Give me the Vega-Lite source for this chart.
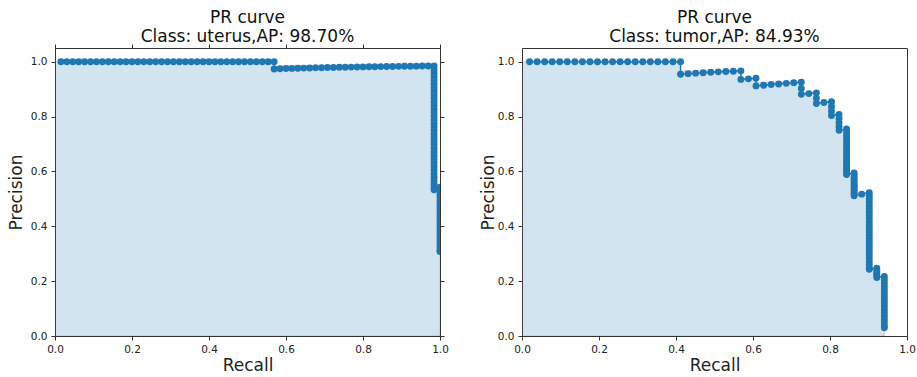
{
 "$schema": "https://vega.github.io/schema/vega-lite/v6.json",
 "padding": {"left": 6, "top": 8, "right": 5, "bottom": 0},
 "bounds": "flush",
 "spacing": 82,
 "config": {
  "font": "DejaVu Sans",
  "view": {"stroke": "#333", "strokeWidth": 1},
  "axis": {"domainColor": "#333", "tickColor": "#333", "tickSize": 4, "labelFontSize": 10.5, "labelColor": "#222", "labelPadding": 4, "labelFlush": false, "titleFontSize": 17, "titleFontWeight": "normal", "titleColor": "#222", "grid": false, "labelFont": "DejaVu Sans", "titleFont": "DejaVu Sans", "zindex": 1},
  "title": {"fontSize": 17, "fontWeight": "normal", "font": "DejaVu Sans", "color": "#111", "lineHeight": 19, "anchor": "middle", "frame": "group"}
 },
 "datasets": {
  "envL": [
   {"recall": 0, "precision": 1}, {"recall": 0.5692, "precision": 0.9846}, {"recall": 0.9846, "precision": 0.5417}, {"recall": 1.0, "precision": 0.5417}
  ],
  "envR": [
   {"recall": 0, "precision": 1}, {"recall": 0.4118, "precision": 0.9667}, {"recall": 0.5686, "precision": 0.9394}, {"recall": 0.6078, "precision": 0.925}, {"recall": 0.7255, "precision": 0.8864}, {"recall": 0.7647, "precision": 0.8542}, {"recall": 0.8039, "precision": 0.8077}, {"recall": 0.8235, "precision": 0.7544}, {"recall": 0.8431, "precision": 0.5946}, {"recall": 0.8627, "precision": 0.5227}, {"recall": 0.902, "precision": 0.2474}, {"recall": 0.9216, "precision": 0.2172}, {"recall": 0.9412, "precision": 0}
  ],
  "ptsL": [
   {"recall": 0.0154, "precision": 1}, {"recall": 0.0308, "precision": 1}, {"recall": 0.0462, "precision": 1}, {"recall": 0.0615, "precision": 1}, {"recall": 0.0769, "precision": 1}, {"recall": 0.0923, "precision": 1}, {"recall": 0.1077, "precision": 1}, {"recall": 0.1231, "precision": 1}, {"recall": 0.1385, "precision": 1}, {"recall": 0.1538, "precision": 1}, {"recall": 0.1692, "precision": 1}, {"recall": 0.1846, "precision": 1}, {"recall": 0.2, "precision": 1}, {"recall": 0.2154, "precision": 1}, {"recall": 0.2308, "precision": 1}, {"recall": 0.2462, "precision": 1}, {"recall": 0.2615, "precision": 1}, {"recall": 0.2769, "precision": 1}, {"recall": 0.2923, "precision": 1}, {"recall": 0.3077, "precision": 1}, {"recall": 0.3231, "precision": 1}, {"recall": 0.3385, "precision": 1}, {"recall": 0.3538, "precision": 1}, {"recall": 0.3692, "precision": 1}, {"recall": 0.3846, "precision": 1}, {"recall": 0.4, "precision": 1}, {"recall": 0.4154, "precision": 1}, {"recall": 0.4308, "precision": 1}, {"recall": 0.4462, "precision": 1}, {"recall": 0.4615, "precision": 1}, {"recall": 0.4769, "precision": 1}, {"recall": 0.4923, "precision": 1}, {"recall": 0.5077, "precision": 1}, {"recall": 0.5231, "precision": 1}, {"recall": 0.5385, "precision": 1}, {"recall": 0.5538, "precision": 1}, {"recall": 0.5692, "precision": 1},
   {"recall": 0.5692, "precision": 0.9737}, {"recall": 0.5846, "precision": 0.9744}, {"recall": 0.6, "precision": 0.975}, {"recall": 0.6154, "precision": 0.9756}, {"recall": 0.6308, "precision": 0.9762}, {"recall": 0.6462, "precision": 0.9767}, {"recall": 0.6615, "precision": 0.9773}, {"recall": 0.6769, "precision": 0.9778}, {"recall": 0.6923, "precision": 0.9783}, {"recall": 0.7077, "precision": 0.9787}, {"recall": 0.7231, "precision": 0.9792}, {"recall": 0.7385, "precision": 0.9796}, {"recall": 0.7538, "precision": 0.98}, {"recall": 0.7692, "precision": 0.9804}, {"recall": 0.7846, "precision": 0.9808}, {"recall": 0.8, "precision": 0.9811}, {"recall": 0.8154, "precision": 0.9815}, {"recall": 0.8308, "precision": 0.9818}, {"recall": 0.8462, "precision": 0.9821}, {"recall": 0.8615, "precision": 0.9825}, {"recall": 0.8769, "precision": 0.9828}, {"recall": 0.8923, "precision": 0.9831}, {"recall": 0.9077, "precision": 0.9833}, {"recall": 0.9231, "precision": 0.9836}, {"recall": 0.9385, "precision": 0.9839}, {"recall": 0.9538, "precision": 0.9841}, {"recall": 0.9692, "precision": 0.9844}, {"recall": 0.9846, "precision": 0.9846},
   {"recall": 0.9846, "precision": 0.97}, {"recall": 0.9846, "precision": 0.957}, {"recall": 0.9846, "precision": 0.944}, {"recall": 0.9846, "precision": 0.931}, {"recall": 0.9846, "precision": 0.918}, {"recall": 0.9846, "precision": 0.905}, {"recall": 0.9846, "precision": 0.892}, {"recall": 0.9846, "precision": 0.879}, {"recall": 0.9846, "precision": 0.866}, {"recall": 0.9846, "precision": 0.853}, {"recall": 0.9846, "precision": 0.84}, {"recall": 0.9846, "precision": 0.827}, {"recall": 0.9846, "precision": 0.814}, {"recall": 0.9846, "precision": 0.801}, {"recall": 0.9846, "precision": 0.788}, {"recall": 0.9846, "precision": 0.775}, {"recall": 0.9846, "precision": 0.762}, {"recall": 0.9846, "precision": 0.749}, {"recall": 0.9846, "precision": 0.736}, {"recall": 0.9846, "precision": 0.723}, {"recall": 0.9846, "precision": 0.71}, {"recall": 0.9846, "precision": 0.697}, {"recall": 0.9846, "precision": 0.684}, {"recall": 0.9846, "precision": 0.671}, {"recall": 0.9846, "precision": 0.658}, {"recall": 0.9846, "precision": 0.645}, {"recall": 0.9846, "precision": 0.632}, {"recall": 0.9846, "precision": 0.619}, {"recall": 0.9846, "precision": 0.606}, {"recall": 0.9846, "precision": 0.593}, {"recall": 0.9846, "precision": 0.58}, {"recall": 0.9846, "precision": 0.567}, {"recall": 0.9846, "precision": 0.554}, {"recall": 0.9846, "precision": 0.543}, {"recall": 0.9846, "precision": 0.533},
   {"recall": 1.0, "precision": 0.542}, {"recall": 1.0, "precision": 0.53}, {"recall": 1.0, "precision": 0.518}, {"recall": 1.0, "precision": 0.506}, {"recall": 1.0, "precision": 0.494}, {"recall": 1.0, "precision": 0.482}, {"recall": 1.0, "precision": 0.47}, {"recall": 1.0, "precision": 0.458}, {"recall": 1.0, "precision": 0.446}, {"recall": 1.0, "precision": 0.434}, {"recall": 1.0, "precision": 0.422}, {"recall": 1.0, "precision": 0.41}, {"recall": 1.0, "precision": 0.398}, {"recall": 1.0, "precision": 0.386}, {"recall": 1.0, "precision": 0.374}, {"recall": 1.0, "precision": 0.362}, {"recall": 1.0, "precision": 0.35}, {"recall": 1.0, "precision": 0.338}, {"recall": 1.0, "precision": 0.326}, {"recall": 1.0, "precision": 0.314}, {"recall": 1.0, "precision": 0.308}
  ],
  "ptsR": [
   {"recall": 0.0196, "precision": 1}, {"recall": 0.0392, "precision": 1}, {"recall": 0.0588, "precision": 1}, {"recall": 0.0784, "precision": 1}, {"recall": 0.098, "precision": 1}, {"recall": 0.1176, "precision": 1}, {"recall": 0.1373, "precision": 1}, {"recall": 0.1569, "precision": 1}, {"recall": 0.1765, "precision": 1}, {"recall": 0.1961, "precision": 1}, {"recall": 0.2157, "precision": 1}, {"recall": 0.2353, "precision": 1}, {"recall": 0.2549, "precision": 1}, {"recall": 0.2745, "precision": 1}, {"recall": 0.2941, "precision": 1}, {"recall": 0.3137, "precision": 1}, {"recall": 0.3333, "precision": 1}, {"recall": 0.3529, "precision": 1}, {"recall": 0.3725, "precision": 1}, {"recall": 0.3922, "precision": 1}, {"recall": 0.4118, "precision": 1},
   {"recall": 0.4118, "precision": 0.9545}, {"recall": 0.4314, "precision": 0.9565}, {"recall": 0.451, "precision": 0.9583}, {"recall": 0.4706, "precision": 0.96}, {"recall": 0.4902, "precision": 0.9615}, {"recall": 0.5098, "precision": 0.963}, {"recall": 0.5294, "precision": 0.9643}, {"recall": 0.549, "precision": 0.9655}, {"recall": 0.5686, "precision": 0.9667},
   {"recall": 0.5686, "precision": 0.9355}, {"recall": 0.5882, "precision": 0.9375}, {"recall": 0.6078, "precision": 0.9394}, {"recall": 0.6078, "precision": 0.9118},
   {"recall": 0.6275, "precision": 0.9143}, {"recall": 0.6471, "precision": 0.9167}, {"recall": 0.6667, "precision": 0.9189}, {"recall": 0.6863, "precision": 0.9211}, {"recall": 0.7059, "precision": 0.9231}, {"recall": 0.7255, "precision": 0.925},
   {"recall": 0.7255, "precision": 0.9024}, {"recall": 0.7255, "precision": 0.881}, {"recall": 0.7451, "precision": 0.8837},
   {"recall": 0.7647, "precision": 0.8864}, {"recall": 0.7647, "precision": 0.8667}, {"recall": 0.7647, "precision": 0.8478}, {"recall": 0.7843, "precision": 0.8511},
   {"recall": 0.8039, "precision": 0.8542}, {"recall": 0.8039, "precision": 0.8367}, {"recall": 0.8039, "precision": 0.82}, {"recall": 0.8039, "precision": 0.8039},
   {"recall": 0.8235, "precision": 0.8077}, {"recall": 0.8235, "precision": 0.7925}, {"recall": 0.8235, "precision": 0.7778}, {"recall": 0.8235, "precision": 0.7636}, {"recall": 0.8235, "precision": 0.75},
   {"recall": 0.8431, "precision": 0.7544}, {"recall": 0.8431, "precision": 0.7414}, {"recall": 0.8431, "precision": 0.7288}, {"recall": 0.8431, "precision": 0.7167}, {"recall": 0.8431, "precision": 0.7049}, {"recall": 0.8431, "precision": 0.6935}, {"recall": 0.8431, "precision": 0.6825}, {"recall": 0.8431, "precision": 0.6719}, {"recall": 0.8431, "precision": 0.6615}, {"recall": 0.8431, "precision": 0.6515}, {"recall": 0.8431, "precision": 0.6418}, {"recall": 0.8431, "precision": 0.6324}, {"recall": 0.8431, "precision": 0.6232}, {"recall": 0.8431, "precision": 0.6143}, {"recall": 0.8431, "precision": 0.6056}, {"recall": 0.8431, "precision": 0.5972}, {"recall": 0.8431, "precision": 0.589},
   {"recall": 0.8627, "precision": 0.5946}, {"recall": 0.8627, "precision": 0.5867}, {"recall": 0.8627, "precision": 0.5789}, {"recall": 0.8627, "precision": 0.5714}, {"recall": 0.8627, "precision": 0.5641}, {"recall": 0.8627, "precision": 0.557}, {"recall": 0.8627, "precision": 0.55}, {"recall": 0.8627, "precision": 0.5432}, {"recall": 0.8627, "precision": 0.5366}, {"recall": 0.8627, "precision": 0.5301}, {"recall": 0.8627, "precision": 0.5238}, {"recall": 0.8627, "precision": 0.5176}, {"recall": 0.8627, "precision": 0.5116},
   {"recall": 0.8824, "precision": 0.5172},
   {"recall": 0.902, "precision": 0.5227}, {"recall": 0.902, "precision": 0.512}, {"recall": 0.902, "precision": 0.5}, {"recall": 0.902, "precision": 0.488}, {"recall": 0.902, "precision": 0.476}, {"recall": 0.902, "precision": 0.464}, {"recall": 0.902, "precision": 0.452}, {"recall": 0.902, "precision": 0.44}, {"recall": 0.902, "precision": 0.428}, {"recall": 0.902, "precision": 0.416}, {"recall": 0.902, "precision": 0.404}, {"recall": 0.902, "precision": 0.392}, {"recall": 0.902, "precision": 0.38}, {"recall": 0.902, "precision": 0.368}, {"recall": 0.902, "precision": 0.356}, {"recall": 0.902, "precision": 0.344}, {"recall": 0.902, "precision": 0.332}, {"recall": 0.902, "precision": 0.32}, {"recall": 0.902, "precision": 0.308}, {"recall": 0.902, "precision": 0.296}, {"recall": 0.902, "precision": 0.284}, {"recall": 0.902, "precision": 0.272}, {"recall": 0.902, "precision": 0.26}, {"recall": 0.902, "precision": 0.248}, {"recall": 0.902, "precision": 0.2434},
   {"recall": 0.9216, "precision": 0.2474}, {"recall": 0.9216, "precision": 0.24}, {"recall": 0.9216, "precision": 0.233}, {"recall": 0.9216, "precision": 0.226}, {"recall": 0.9216, "precision": 0.22}, {"recall": 0.9216, "precision": 0.2136},
   {"recall": 0.9412, "precision": 0.2172}, {"recall": 0.9412, "precision": 0.205}, {"recall": 0.9412, "precision": 0.193}, {"recall": 0.9412, "precision": 0.181}, {"recall": 0.9412, "precision": 0.169}, {"recall": 0.9412, "precision": 0.157}, {"recall": 0.9412, "precision": 0.145}, {"recall": 0.9412, "precision": 0.133}, {"recall": 0.9412, "precision": 0.121}, {"recall": 0.9412, "precision": 0.109}, {"recall": 0.9412, "precision": 0.097}, {"recall": 0.9412, "precision": 0.085}, {"recall": 0.9412, "precision": 0.073}, {"recall": 0.9412, "precision": 0.061}, {"recall": 0.9412, "precision": 0.049}, {"recall": 0.9412, "precision": 0.037}, {"recall": 0.9412, "precision": 0.03}
  ]
 },
 "hconcat": [
  {
   "width": 385, "height": 288,
   "title": {"text": ["PR curve", "Class: uterus,AP: 98.70%"], "offset": -2},
   "layer": [
    {"data": {"name": "envL"},
     "mark": {"type": "area", "interpolate": "step-after", "fill": "#1f77b4", "fillOpacity": 0.2, "stroke": "#ff0000", "strokeOpacity": 0.2, "strokeWidth": 1, "clip": true},
     "encoding": {
      "x": {"field": "recall", "type": "quantitative", "scale": {"domain": [0, 1], "nice": false, "zero": false}, "axis": {"title": "Recall", "values": [0, 0.2, 0.4, 0.6, 0.8, 1], "format": ".1f", "titlePadding": 3}},
      "y": {"field": "precision", "type": "quantitative", "scale": {"domain": [0, 1.05], "nice": false}, "axis": {"title": "Precision", "values": [0, 0.2, 0.4, 0.6, 0.8, 1], "format": ".1f", "titlePadding": 5}}
     }},
    {"data": {"name": "ptsL"},
     "mark": {"type": "line", "color": "#1f77b4", "strokeWidth": 1.5, "clip": true},
     "encoding": {
      "x": {"field": "recall", "type": "quantitative", "axis": {"orient": "top", "labels": false, "title": null, "values": [0, 0.2, 0.4, 0.6, 0.8, 1]}},
      "y": {"field": "precision", "type": "quantitative", "axis": {"orient": "right", "labels": false, "title": null, "values": [0, 0.2, 0.4, 0.6, 0.8, 1]}},
      "order": [{"field": "recall", "type": "quantitative"}, {"field": "precision", "type": "quantitative", "sort": "descending"}]
     }},
    {"data": {"name": "ptsL"},
     "mark": {"type": "point", "filled": true, "opacity": 1, "size": 48, "color": "#1f77b4", "clip": true},
     "encoding": {
      "x": {"field": "recall", "type": "quantitative", "axis": null},
      "y": {"field": "precision", "type": "quantitative", "axis": null}
     }}
   ],
   "resolve": {"axis": {"x": "independent", "y": "independent"}}
  },
  {
   "width": 385, "height": 288,
   "title": {"text": ["PR curve", "Class: tumor,AP: 84.93%"], "offset": 2},
   "layer": [
    {"data": {"name": "envR"},
     "mark": {"type": "area", "interpolate": "step-after", "fill": "#1f77b4", "fillOpacity": 0.2, "stroke": "#ff0000", "strokeOpacity": 0.2, "strokeWidth": 1, "clip": true},
     "encoding": {
      "x": {"field": "recall", "type": "quantitative", "scale": {"domain": [0, 1], "nice": false, "zero": false}, "axis": {"title": "Recall", "values": [0, 0.2, 0.4, 0.6, 0.8, 1], "format": ".1f", "titlePadding": 3}},
      "y": {"field": "precision", "type": "quantitative", "scale": {"domain": [0, 1.05], "nice": false}, "axis": {"title": "Precision", "values": [0, 0.2, 0.4, 0.6, 0.8, 1], "format": ".1f", "titlePadding": 0}}
     }},
    {"data": {"name": "ptsR"},
     "mark": {"type": "line", "color": "#1f77b4", "strokeWidth": 1.5, "clip": true},
     "encoding": {
      "x": {"field": "recall", "type": "quantitative"},
      "y": {"field": "precision", "type": "quantitative"},
      "order": [{"field": "recall", "type": "quantitative"}, {"field": "precision", "type": "quantitative", "sort": "descending"}]
     }},
    {"data": {"name": "ptsR"},
     "mark": {"type": "point", "filled": true, "opacity": 1, "size": 48, "color": "#1f77b4", "clip": true},
     "encoding": {
      "x": {"field": "recall", "type": "quantitative"},
      "y": {"field": "precision", "type": "quantitative"}
     }}
   ]
  }
 ]
}
